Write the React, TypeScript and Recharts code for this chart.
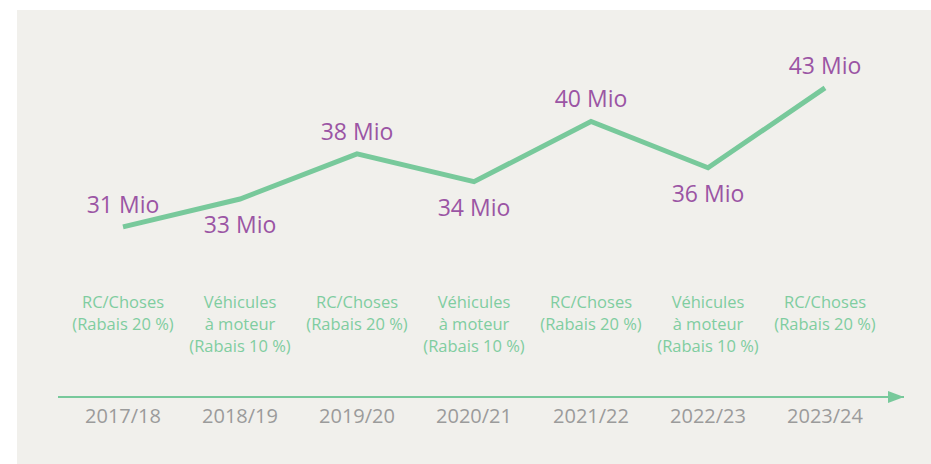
import { LineChart, Line, XAxis, YAxis, LabelList } from 'recharts'

// years along the arrow
const years = ['2017/18', '2018/19', '2019/20', '2020/21', '2021/22', '2022/23', '2023/24']

// discount scheme per year, one entry per text line
const schemes = [
  ['RC/Choses', '(Rabais 20 %)'],
  ['Véhicules', 'à moteur', '(Rabais 10 %)'],
  ['RC/Choses', '(Rabais 20 %)'],
  ['Véhicules', 'à moteur', '(Rabais 10 %)'],
  ['RC/Choses', '(Rabais 20 %)'],
  ['Véhicules', 'à moteur', '(Rabais 10 %)'],
  ['RC/Choses', '(Rabais 20 %)']
]

// printed amounts (Mio)
const amounts = [31, 33, 38, 34, 40, 36, 43]

// plotted heights (the original is not drawn to scale)
const plotted = [30.7, 33.1, 37.0, 34.6, 39.8, 35.8, 42.7]

const GREEN = '#78c99b'
const TEXT_GREEN = '#7fcda0'
const PURPLE = '#9b55a4'
const GREY = '#9b9b9b'

const data = years.map((year, i) => ({ year, value: plotted[i] }))

function YearTick(props: any) {
  const { x, y, index } = props
  const lines = schemes[index] || []
  return (
    <g>
      {lines.map((line, j) => (
        <text
          key={j}
          x={x}
          y={y - 89 + j * 22}
          textAnchor="middle"
          fill={TEXT_GREEN}
          fontSize={16.5}
          fontFamily="'Open Sans', sans-serif"
        >
          {line}
        </text>
      ))}
      <text
        x={x}
        y={y + 26}
        textAnchor="middle"
        fill={GREY}
        fontSize={20}
        fontFamily="'Open Sans', sans-serif"
      >
        {years[index]}
      </text>
    </g>
  )
}

function AmountLabel(props: any) {
  const { x, y, index } = props
  const above = index % 2 === 0
  return (
    <text
      x={x}
      y={above ? y - 14 : y + 34}
      textAnchor="middle"
      fill={PURPLE}
      fontSize={23}
      fontFamily="'Open Sans', sans-serif"
    >
      {amounts[index]} Mio
    </text>
  )
}

export default function App() {
  return (
    <div
      style={{
        position: 'absolute',
        left: 17,
        top: 10,
        width: 914,
        height: 454,
        background: '#f1f0ec'
      }}
    >
      <LineChart
        width={914}
        height={454}
        data={data}
        margin={{ top: 5, right: 27, bottom: 0, left: 41 }}
      >
        <defs>
          <marker
            id="arrowHead"
            markerWidth={16}
            markerHeight={12}
            refX={16}
            refY={6}
            orient="auto"
            markerUnits="userSpaceOnUse"
          >
            <path d="M0,0 L16,6 L0,12 Z" fill={GREEN} />
          </marker>
        </defs>
        <XAxis
          dataKey="year"
          interval={0}
          height={67}
          padding={{ left: 65, right: 79 }}
          tickLine={false}
          tickSize={0}
          tickMargin={0}
          axisLine={{ stroke: GREEN, strokeWidth: 2, markerEnd: 'url(#arrowHead)' }}
          tick={<YearTick />}
        />
        <YAxis hide domain={[16, 49]} />
        <Line
          type="linear"
          dataKey="value"
          stroke={GREEN}
          strokeWidth={5}
          dot={false}
          activeDot={false}
          isAnimationActive={false}
        >
          <LabelList dataKey="value" content={<AmountLabel />} />
        </Line>
      </LineChart>
    </div>
  )
}
